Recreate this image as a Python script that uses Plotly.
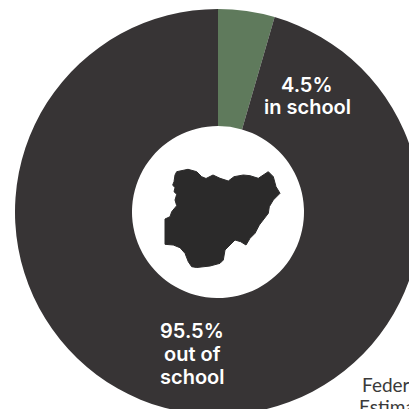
import plotly.graph_objects as go

# Share of children by school attendance
categories = ["in school", "out of school"]
shares = [4.5, 95.5]
slice_colors = ["#5f7a5c", "#373435"]

# Silhouette of Nigeria, in canvas pixels
nigeria_x = [176.7, 188, 196.7, 201.7, 206, 213, 220, 228.3, 234, 243.3, 250, 258.3, 268.3, 273.3,
             276, 280, 273.3, 269.3, 268.3, 263.3, 259.3, 255, 250, 246, 240.7, 235, 230, 225,
             223.3, 220, 210, 196.7, 191.7, 188.3, 185, 180, 173.3, 165, 165, 170, 171.7, 176.7,
             175, 176.7, 174, 175, 172.7, 174, 175, 176.7]
nigeria_y = [171.7, 169.3, 171.7, 176.7, 178.5, 175, 178.3, 181, 176.7, 175, 175.7, 178.3, 171.7, 176.7,
             186.7, 193.3, 200, 206.7, 213.3, 220, 225, 233.3, 238.3, 245, 241.7, 240, 245, 250,
             260, 263.3, 266, 267.5, 266.7, 261.7, 253.3, 247.7, 245, 244.3, 219, 216.7, 211.7, 205.7,
             200, 194.3, 191.7, 187.7, 185, 181.7, 175, 171.7]

SIZE = 430
CX, CY, R = 218, 212, 203

fig = go.Figure()

fig.add_trace(go.Scatter(
    x=nigeria_x, y=nigeria_y, mode="lines", fill="toself",
    fillcolor="#2b2a2a", line=dict(color="#2b2a2a", width=1),
    hoverinfo="skip", showlegend=False,
))

fig.add_trace(go.Pie(
    labels=categories, values=shares, hole=86 / R, sort=False,
    direction="clockwise", rotation=0, textinfo="none",
    marker=dict(colors=slice_colors, line=dict(width=0)),
    domain=dict(x=[(CX - R) / SIZE, (CX + R) / SIZE],
                y=[(SIZE - CY - R) / SIZE, (SIZE - CY + R) / SIZE]),
    showlegend=False,
))

# Slice captions, then the source note running off the canvas
white_bold = dict(family="Inter", size=20, color="#ffffff", weight=600)
captions = [("4.5%", 307, 85), ("in school", 307.5, 107),
            ("95.5%", 192, 331), ("out of", 192, 354), ("school", 192, 377)]
annotations = [dict(text=t, x=x, y=y, xref="x", yref="y", showarrow=False,
                    xanchor="center", yanchor="middle", font=white_bold)
               for t, x, y in captions]
note_font = dict(family="Lato", size=19, color="#3a3a3a")
annotations += [
    dict(text="Federal", x=359.5, y=384, xref="x", yref="y", showarrow=False,
         xanchor="left", yanchor="middle", font=note_font),
    dict(text="Estimates", x=356.5, y=406, xref="x", yref="y", showarrow=False,
         xanchor="left", yanchor="middle", font=note_font),
]

fig.update_layout(
    width=SIZE, height=SIZE, margin=dict(l=0, r=0, t=0, b=0),
    paper_bgcolor="#ffffff", plot_bgcolor="rgba(0,0,0,0)",
    xaxis=dict(range=[0, SIZE], visible=False, fixedrange=True),
    yaxis=dict(range=[SIZE, 0], visible=False, fixedrange=True),
    annotations=annotations,
)

fig.write_html(
    "out.html",
    config={"displayModeBar": False},
    post_script="document.documentElement.style.overflow='hidden';document.body.style.overflow='hidden';",
)
